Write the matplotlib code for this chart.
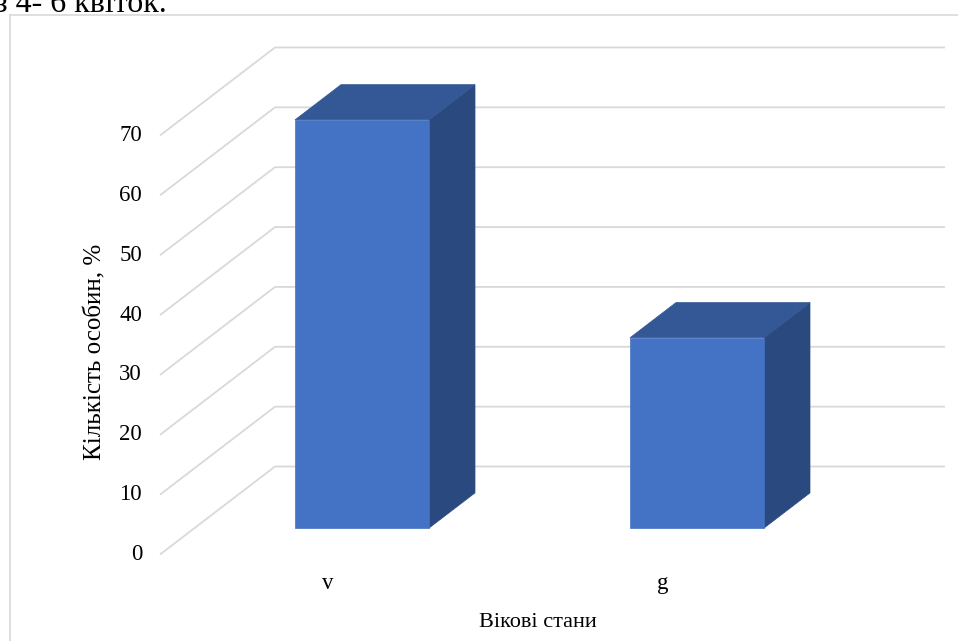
import matplotlib
matplotlib.use("Agg")
import matplotlib.pyplot as plt
from matplotlib.patches import Polygon
from matplotlib.lines import Line2D
from matplotlib.transforms import offset_copy

# ---- data ----
categories = ["v", "g"]
values = [68.2, 31.8]
y_ticks = [0, 10, 20, 30, 40, 50, 60, 70]
y_label = "Кількість особин, %"
x_label = "Вікові стани"
caption = "з 4- 6 квіток."

# ---- style ----
FONT = "Liberation Serif"
C_FRONT = "#4472C4"
C_TOP = "#345895"
C_SIDE = "#2A4A7F"
C_GRID = "#D9D9D9"

W, H = 958, 641
fig = plt.figure(figsize=(W / 100, H / 100), dpi=100)
ax = fig.add_axes([0, 0, 1, 1])

# oblique projection: x in category units, y in value units, z = depth (0 front .. 1 back)
px_cat = 335.0
px_val = 5.986
x0_px, y0_px = 160.0, 554.5
DX = 115.0 / px_cat
DY = 88.0 / px_val
ax.set_xlim(-x0_px / px_cat, (W - x0_px) / px_cat)
ax.set_ylim((y0_px - H) / px_val, y0_px / px_val)
ax.axis("off")


def proj(x, v, z):
    return (x + z * DX, v + z * DY)


n = len(categories)

# back wall / side wall gridlines
for t in y_ticks:
    pts = [proj(0, t, 0), proj(0, t, 1), proj(n, t, 1)]
    ax.add_line(Line2D([p[0] for p in pts], [p[1] for p in pts],
                       color=C_GRID, lw=1.3, zorder=1, solid_capstyle="butt"))

# 3-D bars
half_w = 0.2
z_front, z_back = 0.3, 0.7
for i, v in enumerate(values):
    xc = i + 0.5
    xl, xr = xc - half_w, xc + half_w
    front = [proj(xl, 0, z_front), proj(xr, 0, z_front),
             proj(xr, v, z_front), proj(xl, v, z_front)]
    top = [proj(xl, v, z_front), proj(xr, v, z_front),
           proj(xr, v, z_back), proj(xl, v, z_back)]
    side = [proj(xr, 0, z_front), proj(xr, 0, z_back),
            proj(xr, v, z_back), proj(xr, v, z_front)]
    for poly, col in ((side, C_SIDE), (top, C_TOP), (front, C_FRONT)):
        ax.add_patch(Polygon(poly, closed=True, facecolor=col,
                             edgecolor=col, lw=0.5, zorder=3))

# value axis tick labels
tick_tr = offset_copy(ax.transData, fig=fig, x=-18, y=0, units="dots")
for t in y_ticks:
    ax.text(proj(0, t, 0)[0], t, str(t), transform=tick_tr, ha="right",
            va="center", fontsize=16.5, family=FONT, color="black")

# category labels
cat_tr = offset_copy(ax.transData, fig=fig, x=0, y=-34.5, units="dots")
for i, c in enumerate(categories):
    ax.text(i + 0.5, 0, c, transform=cat_tr, ha="center", va="baseline",
            fontsize=16.5, family=FONT, color="black")

# axis titles
fig.text(538 / W, 1 - 627 / H, x_label, ha="center", va="baseline",
         fontsize=16, family=FONT, color="black")
fig.text(95 / W, 1 - 352 / H, y_label, ha="center", va="center",
         rotation=90, fontsize=18, family=FONT, color="black")

# chart frame (runs off the right and bottom edges)
fig.add_artist(Line2D([9.5 / W, 9.5 / W], [0, 1 - 14.5 / H],
                      transform=fig.transFigure, color=C_GRID, lw=1.2))
fig.add_artist(Line2D([9.5 / W, 1], [1 - 14.5 / H, 1 - 14.5 / H],
                      transform=fig.transFigure, color=C_GRID, lw=1.2))

# document caption line above the chart
fig.text(167 / W, 1 - 12.5 / H, caption, ha="right", va="baseline",
         fontsize=23, family=FONT, color="black")

fig.savefig("out.png", dpi=100, facecolor="white")
